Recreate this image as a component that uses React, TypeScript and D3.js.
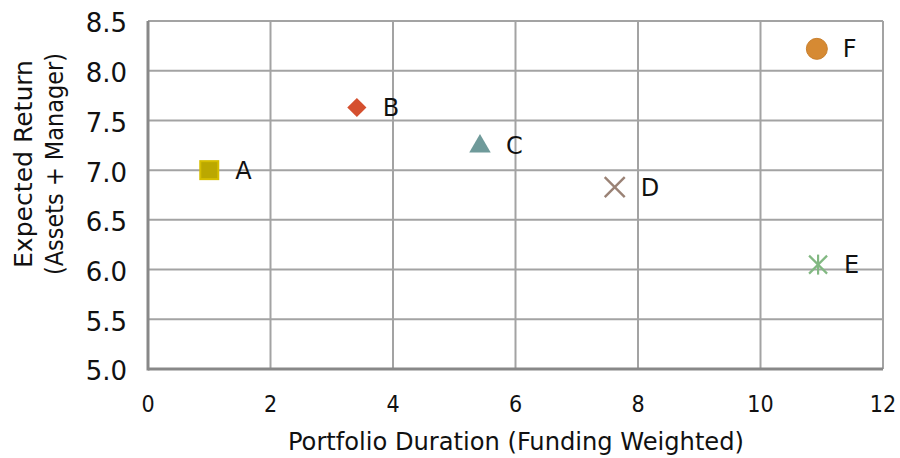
import React from "react";
import * as d3 from "d3";

const labels = ["A", "B", "C", "D", "E", "F"];
const duration = [1.0, 3.41, 5.42, 7.62, 10.94, 10.92];
const expectedReturn = [7.0, 7.63, 7.25, 6.83, 6.05, 8.22];
const shapes = ["square", "diamond", "triangle", "cross", "asterisk", "circle"];
const colors = ["#BBA800", "#D5502F", "#6F9A9A", "#9A8275", "#82B882", "#D68A33"];
const xTicks = [0, 2, 4, 6, 8, 10, 12];
const yTicks = [5.0, 5.5, 6.0, 6.5, 7.0, 7.5, 8.0, 8.5];

const W = 900;
const H = 458;
const left = 148;
const right = 883;
const top = 21;
const bottom = 369;

const x = d3.scaleLinear().domain([0, 12]).range([left, right]);
const y = d3.scaleLinear().domain([5, 8.5]).range([bottom, top]);

const condensed = "DejaVu Sans Condensed, DejaVu Sans";

function Marker({ shape, color, cx, cy }: { shape: string; color: string; cx: number; cy: number }) {
  if (shape === "square") {
    return <rect x={cx - 9} y={cy - 9} width={18} height={18} fill={color} stroke="#D6BE00" strokeWidth={2} />;
  }
  if (shape === "diamond") {
    const p = d3.symbol(d3.symbolDiamond2, 235)();
    return <path d={p || ""} transform={`translate(${cx},${cy})`} fill={color} />;
  }
  if (shape === "triangle") {
    const p = d3.symbol(d3.symbolTriangle, 200)();
    return <path d={p || ""} transform={`translate(${cx},${cy + 1})`} fill={color} />;
  }
  if (shape === "cross") {
    const s = 10;
    return (
      <g stroke={color} strokeWidth={2.4}>
        <line x1={cx - s} y1={cy - s} x2={cx + s} y2={cy + s} />
        <line x1={cx - s} y1={cy + s} x2={cx + s} y2={cy - s} />
      </g>
    );
  }
  if (shape === "asterisk") {
    const s = 9;
    return (
      <g stroke={color} strokeWidth={2.2}>
        <line x1={cx - s} y1={cy - s} x2={cx + s} y2={cy + s} />
        <line x1={cx - s} y1={cy + s} x2={cx + s} y2={cy - s} />
        <line x1={cx} y1={cy - s - 1} x2={cx} y2={cy + s + 1} />
      </g>
    );
  }
  return <circle cx={cx} cy={cy} r={10.5} fill={color} stroke="#C9802E" strokeWidth={1} />;
}

export default function App() {
  return (
    <svg width={W} height={H} style={{ position: "absolute", left: 0, top: 0, background: "#fff" }}>
      <rect width={W} height={H} fill="#fff" />
      {/* grid */}
      {yTicks.map((t) => (
        <line key={"gy" + t} x1={left} x2={right} y1={y(t)} y2={y(t)} stroke="#A3A3A3" strokeWidth={2} />
      ))}
      {xTicks.map((t) => (
        <line key={"gx" + t} x1={x(t)} x2={x(t)} y1={top} y2={bottom} stroke="#A3A3A3" strokeWidth={2} />
      ))}
      {/* axes */}
      <line x1={left} x2={left} y1={top} y2={bottom + 1.5} stroke="#888" strokeWidth={3} />
      <line x1={left} x2={right} y1={bottom} y2={bottom} stroke="#888" strokeWidth={3} />
      {/* tick labels */}
      {yTicks.map((t) => (
        <text key={"ty" + t} x={127} y={y(t) + 2} dy="0.36em" textAnchor="end"
          fontFamily="DejaVu Sans" fontSize={26} fill="#111">
          {t.toFixed(1)}
        </text>
      ))}
      {xTicks.map((t) => (
        <text key={"tx" + t} x={x(t)} y={412} textAnchor="middle"
          fontFamily={condensed} fontSize={23} fill="#111">
          {t}
        </text>
      ))}
      {/* axis titles */}
      <text x={516} y={450} textAnchor="middle" fontFamily={condensed} fontSize={25} fill="#111"
        textLength={456} lengthAdjust="spacingAndGlyphs">
        Portfolio Duration (Funding Weighted)
      </text>
      <g transform="translate(0,164) rotate(-90)" fontFamily={condensed} fontSize={25} fill="#111" textAnchor="middle">
        <text x={0} y={32} textLength={208} lengthAdjust="spacingAndGlyphs">Expected Return</text>
        <text x={0} y={63} textLength={222} lengthAdjust="spacingAndGlyphs">(Assets + Manager)</text>
      </g>
      {/* points */}
      {labels.map((l, i) => {
        const cx = x(duration[i]);
        const cy = y(expectedReturn[i]);
        return (
          <g key={l}>
            <Marker shape={shapes[i]} color={colors[i]} cx={cx} cy={cy} />
            <text x={cx + 26} y={cy} dy="0.36em" fontFamily="DejaVu Sans" fontSize={24} fill="#111">
              {l}
            </text>
          </g>
        );
      })}
    </svg>
  );
}
